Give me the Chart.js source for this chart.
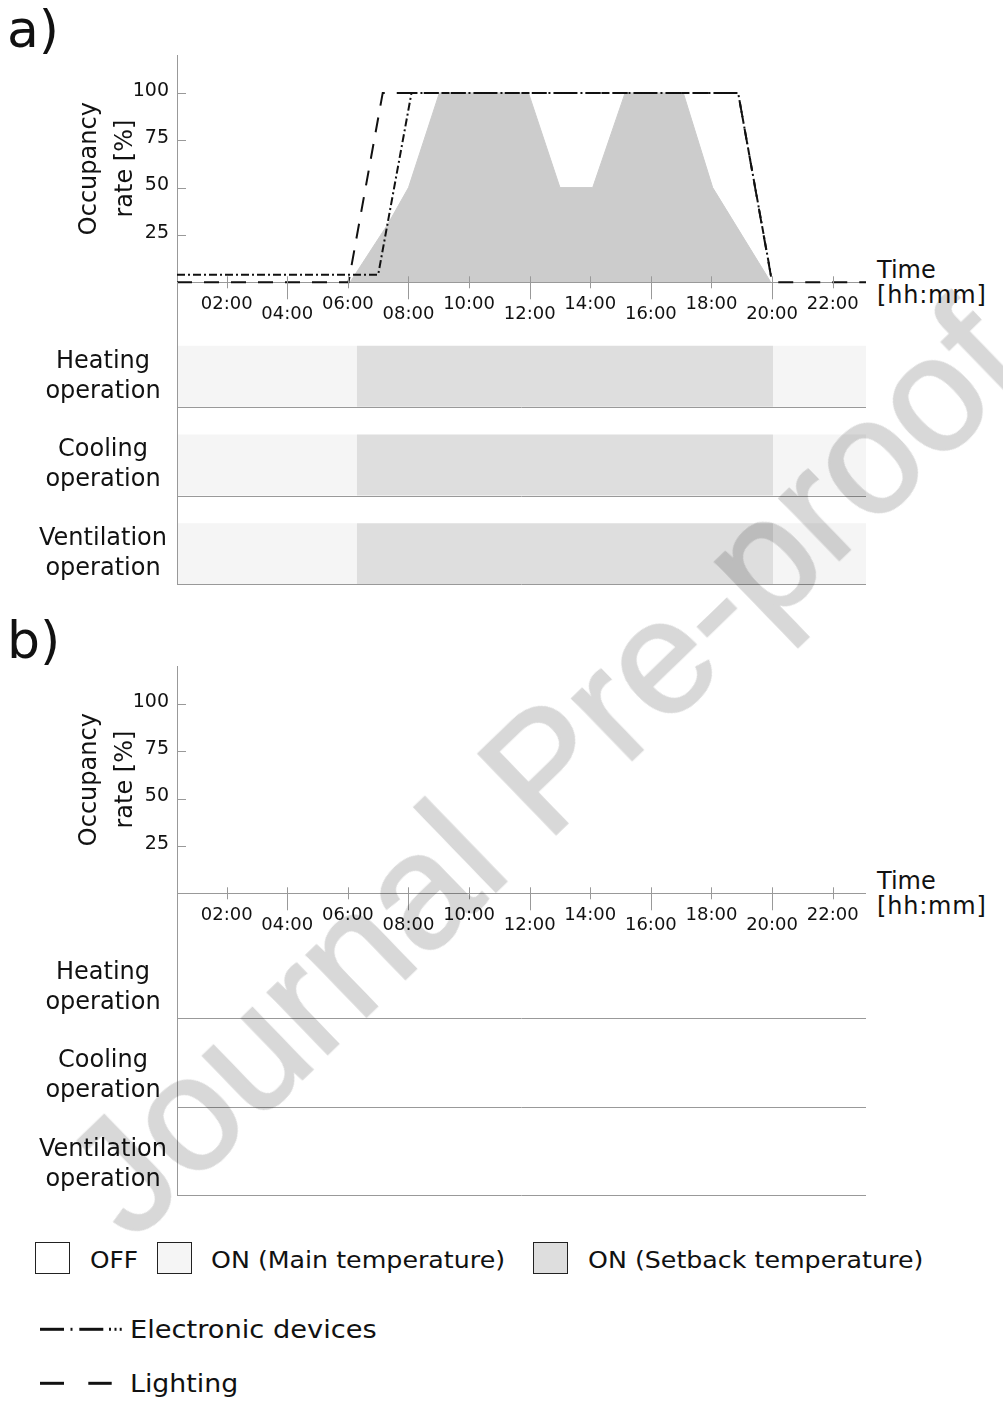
<!DOCTYPE html>
<html>
<head>
<meta charset="utf-8">
<script src="https://cdn.jsdelivr.net/npm/chart.js@4.4.0/dist/chart.umd.min.js"></script>
<style>
body { margin: 0; background: #fff; }
#page { position: relative; width: 1003px; height: 1403px; overflow: hidden; font-family: 'DejaVu Sans', sans-serif; color: #111; background: #fff; }
.box { position: absolute; left: 0; width: 866px; }
.t { position: absolute; white-space: nowrap; line-height: 1; transform-origin: 0 0; }
.sw { position: absolute; top: 1242px; width: 35px; height: 32px; border: 1.5px solid #222; box-sizing: border-box; }
#wm { position: absolute; left: 543px; top: 768px; transform: translate(-50%, -50%) rotate(-44deg); font-family: 'Liberation Sans', sans-serif; font-size: 162px; line-height: 1; white-space: nowrap; color: #d8d8d8; -webkit-text-stroke: 2.5px #d8d8d8; mix-blend-mode: multiply; pointer-events: none; }
</style>
</head>
<body>
<div id="page">
  <div class="t" style="left:7px;top:3px;font-size:52px">a)</div>
  <div class="t" style="left:7px;top:614px;font-size:52px">b)</div>

  <div class="box" style="top:0;height:330px"><canvas id="occA"></canvas></div>
  <div class="box" style="top:282px;height:316px"><canvas id="opA"></canvas></div>
  <div class="box" style="top:611px;height:330px"><canvas id="occB"></canvas></div>
  <div class="box" style="top:893px;height:316px"><canvas id="opB"></canvas></div>

  <div class="t" style="left:877px;top:258px;font-size:24px">Time</div>
  <div class="t" style="left:877px;top:283px;font-size:24px;letter-spacing:0.8px">[hh:mm]</div>
  <div class="t" style="left:877px;top:869px;font-size:24px">Time</div>
  <div class="t" style="left:877px;top:894px;font-size:24px;letter-spacing:0.8px">[hh:mm]</div>

  <!-- legenda -->
  <div class="sw" style="left:35px;background:#fff"></div>
  <div class="t" style="left:90px;top:1249px;font-size:23px;transform:scaleX(1.08)">OFF</div>
  <div class="sw" style="left:157px;background:#f5f5f5"></div>
  <div class="t" style="left:211px;top:1249px;font-size:23px;transform:scaleX(1.1)">ON (Main temperature)</div>
  <div class="sw" style="left:533px;background:#dedede"></div>
  <div class="t" style="left:588px;top:1249px;font-size:23px;transform:scaleX(1.1)">ON (Setback temperature)</div>

  <svg style="position:absolute;left:0;top:1300px" width="140" height="100">
    <g stroke="#111" stroke-width="3">
      <line x1="40" y1="29.3" x2="64" y2="29.3"/>
      <line x1="70.5" y1="29.3" x2="72.5" y2="29.3"/>
      <line x1="79.3" y1="29.3" x2="103.3" y2="29.3"/>
      <line x1="109" y1="29.3" x2="111" y2="29.3"/>
      <line x1="114.5" y1="29.3" x2="116.5" y2="29.3"/>
      <line x1="119.7" y1="29.3" x2="121.7" y2="29.3"/>
      <line x1="40" y1="83.3" x2="64" y2="83.3"/>
      <line x1="88.3" y1="83.3" x2="111.7" y2="83.3"/>
    </g>
  </svg>
  <div class="t" style="left:130px;top:1317px;font-size:25px;transform:scaleX(1.09)">Electronic devices</div>
  <div class="t" style="left:130px;top:1370.5px;font-size:25px;transform:scaleX(1.07)">Lighting</div>

  <div id="wm">Journal Pre-proof</div>
</div>

<script>
// ---- dados ---- //
const xMin = 0.36, xMax = 23.1;
const tickHours = [2, 4, 6, 8, 10, 12, 14, 16, 18, 20, 22];
const tickLabels = ['02:00', '04:00', '06:00', '08:00', '10:00', '12:00', '14:00', '16:00', '18:00', '20:00', '22:00'];
const rateTicks = [25, 50, 75, 100];

// occupancy rate (grey area)
const occHours = [6.07, 7.33, 8.0, 9.02, 11.96, 13.0, 14.08, 15.15, 17.07, 18.04, 19.96];
const occRate  = [0, 31, 50, 100, 100, 50, 50, 100, 100, 50, 0];
// electronic devices (dash-dot)
const elecHours = [0.36, 7.0, 8.1, 18.88, 19.96];
const elecRate  = [4, 4, 100, 100, 4];
// lighting (dashed)
const lightHours = [0.36, 6.02, 7.15, 18.88, 20.0, 23.1];
const lightRate  = [0, 0, 100, 100, 0, 0];

// operation rows, setback period of each one
const rows = [['Heating', 'operation'], ['Cooling', 'operation'], ['Ventilation', 'operation']];
const setbackFrom = [6.3, 6.3, 6.3];
const setbackTo = [20.03, 20.03, 20.03];
// ---------------- //

const axisColor = '#999';
const mainColor = '#f5f5f5';
const setbackColor = '#dedede';
const barShare = 0.688;

Chart.defaults.font.family = "'DejaVu Sans', sans-serif";
Chart.defaults.color = '#111';

function pts(h, v) {
    return h.map((x, i) => ({x: x, y: v[i]}));
}

// no extra padding, the chart areas must line up with each other
function noPad(s) {
    s.paddingLeft = 0;
    s.paddingRight = 0;
    s.paddingTop = 0;
    s.paddingBottom = 0;
}

// small tick marks crossing the axes
const tickMarks = {
    id: 'tickMarks',
    afterDraw(chart) {
        const {ctx, scales: {x, y}} = chart;
        const base = y.getPixelForValue(0);
        ctx.save();
        ctx.strokeStyle = axisColor;
        ctx.lineWidth = 1;
        ctx.beginPath();
        x.ticks.forEach((t, i) => {
            const px = Math.round(x.getPixelForValue(t.value)) + 0.5;
            ctx.moveTo(px, base - 6);
            ctx.lineTo(px, base + (i % 2 ? 17 : 6));
        });
        y.ticks.forEach(t => {
            const py = Math.round(y.getPixelForValue(t.value)) + 0.5;
            ctx.moveTo(x.left, py);
            ctx.lineTo(x.left + 9, py);
        });
        ctx.stroke();
        ctx.restore();
    }
};

// lines under each operation row + the y axis going down
const rowLines = {
    id: 'rowLines',
    afterDraw(chart) {
        const {ctx, chartArea, scales: {y}} = chart;
        const half = (y.getPixelForValue(1) - y.getPixelForValue(0)) * barShare / 2;
        const ax = Math.round(chartArea.left) + 0.5;
        let last = 0;
        ctx.save();
        ctx.strokeStyle = axisColor;
        ctx.lineWidth = 1;
        ctx.beginPath();
        rows.forEach((r, i) => {
            const py = Math.round(y.getPixelForValue(i) + half) + 0.5;
            ctx.moveTo(chartArea.left, py);
            ctx.lineTo(chartArea.right, py);
            last = py;
        });
        ctx.moveTo(ax, 0);
        ctx.lineTo(ax, last);
        ctx.stroke();
        ctx.restore();
    }
};

function occChart(id, withData) {
    const datasets = withData ? [
        {label: 'Electronic devices', data: pts(elecHours, elecRate), borderColor: '#111', borderWidth: 2,
         borderDash: [8, 3, 2, 3], pointRadius: 0, fill: false, clip: false},
        {label: 'Lighting', data: pts(lightHours, lightRate), borderColor: '#111', borderWidth: 2,
         borderDash: [15, 12], pointRadius: 0, fill: false, clip: false},
        {label: 'Occupancy', data: pts(occHours, occRate), borderColor: '#ccc', borderWidth: 1,
         backgroundColor: '#ccc', pointRadius: 0, fill: 'origin'}
    ] : [];
    return new Chart(document.getElementById(id), {
        type: 'line',
        data: {datasets: datasets},
        options: {
            responsive: true,
            maintainAspectRatio: false,
            animation: false,
            layout: {padding: {top: 55, left: 0, right: 0, bottom: 0}},
            plugins: {legend: {display: false}, tooltip: {enabled: false}},
            elements: {line: {tension: 0}},
            scales: {
                x: {
                    type: 'linear', min: xMin, max: xMax,
                    afterBuildTicks: s => { s.ticks = tickHours.map(v => ({value: v})); },
                    afterFit: s => { s.height = 47.7; noPad(s); },
                    grid: {display: false, drawTicks: false},
                    border: {color: axisColor},
                    ticks: {
                        autoSkip: false, maxRotation: 0, padding: 17.3,
                        font: {size: 18, lineHeight: '10px'},
                        callback: (v, i) => i % 2 ? ['', tickLabels[i]] : tickLabels[i]
                    }
                },
                y: {
                    type: 'linear', min: 0, max: 120,
                    afterBuildTicks: s => { s.ticks = rateTicks.map(v => ({value: v})); },
                    afterFit: s => { s.width = 177; noPad(s); },
                    grid: {display: false, drawTicks: false},
                    border: {color: axisColor},
                    ticks: {padding: 8, font: {size: 19, lineHeight: '4.6px'}, callback: v => [String(v), '']},
                    title: {
                        display: true, text: ['Occupancy', 'rate [%]'],
                        font: {size: 24, lineHeight: 1.51},
                        padding: {top: 71.7, bottom: 0}
                    }
                }
            }
        },
        plugins: [tickMarks]
    });
}

function opChart(id, withData) {
    const datasets = withData ? [
        {label: 'ON (Setback temperature)', data: setbackFrom.map((v, i) => [v, setbackTo[i]]), backgroundColor: setbackColor},
        {label: 'ON (Main temperature)', data: setbackFrom.map(v => [xMin, v]), backgroundColor: mainColor},
        {label: 'ON (Main temperature)', data: setbackTo.map(v => [v, xMax]), backgroundColor: mainColor}
    ] : [];
    return new Chart(document.getElementById(id), {
        type: 'bar',
        data: {labels: rows, datasets: datasets},
        options: {
            indexAxis: 'y',
            responsive: true,
            maintainAspectRatio: false,
            animation: false,
            layout: {padding: {top: 50, left: 0, right: 0, bottom: 0}},
            plugins: {legend: {display: false}, tooltip: {enabled: false}},
            datasets: {bar: {grouped: false, categoryPercentage: barShare, barPercentage: 1, borderWidth: 0}},
            scales: {
                x: {type: 'linear', min: xMin, max: xMax, display: false, afterFit: noPad},
                y: {
                    type: 'category',
                    afterFit: s => { s.width = 177; noPad(s); },
                    grid: {display: false, drawTicks: false},
                    border: {display: false},
                    ticks: {crossAlign: 'center', padding: 10, font: {size: 24, lineHeight: '30px'}}
                }
            }
        },
        plugins: [rowLines]
    });
}

occChart('occA', true);
opChart('opA', true);
occChart('occB', false);
opChart('opB', false);
</script>
</body>
</html>
